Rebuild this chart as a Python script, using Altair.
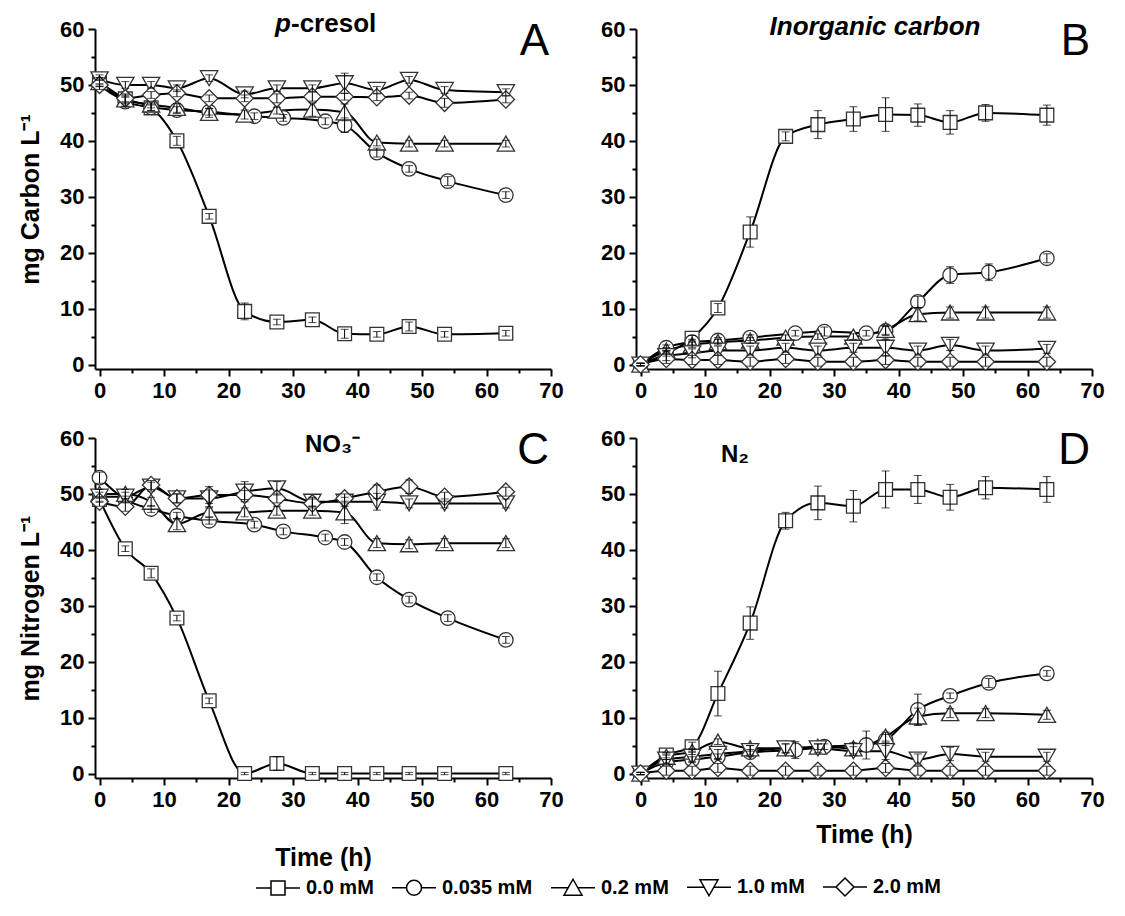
import altair as alt
import pandas as pd

FONT = "Liberation Sans"

series = ["0.0 mM", "0.035 mM", "0.2 mM", "1.0 mM", "2.0 mM"]
shapes = ["square", "circle", "triangle-up", "triangle-down", "diamond"]
marker_sizes = [190, 210, 300, 300, 300]

t_main = [0, 4, 8, 12, 17, 22.5, 27.5, 33, 38, 43, 48, 53.5, 63]
t_circ = [0, 4, 8, 12, 17, 24, 28.5, 35, 38, 43, 48, 54, 63]

x_ticks = list(range(0, 75, 5))
y_ticks = list(range(0, 65, 5))

# ---- Panel A: p-cresol (mg C/L) ----
A_00 = [50.5, 47.5, 45.9, 40.0, 26.5, 9.5, 7.6, 8.0, 5.5, 5.4, 6.8, 5.4, 5.6]
A_035 = [50.5, 47.0, 46.0, 45.5, 45.2, 44.4, 44.1, 43.5, 42.8, 37.9, 35.0, 32.8, 30.3]
A_02 = [50.5, 47.4, 46.5, 45.9, 45.0, 44.7, 45.4, 45.6, 45.1, 39.7, 39.5, 39.5, 39.5]
A_10 = [51.0, 50.0, 50.0, 49.4, 51.2, 48.3, 49.4, 49.4, 50.3, 49.1, 50.9, 49.1, 48.7]
A_20 = [50.0, 47.6, 48.2, 48.5, 47.6, 47.6, 47.6, 47.9, 47.9, 47.8, 48.1, 46.8, 47.4]
A_00_err = [0.5, 0.5, 0.5, 0.8, 0.5, 1.5, 0.5, 0.5, 0.8, 0.5, 0.8, 0.5, 0.5]
A_035_err = [0.8, 0.8, 0.6, 0.6, 0.6, 0.6, 0.6, 0.6, 1.3, 0.8, 0.6, 0.8, 0.6]
A_02_err = [0.8, 0.8, 0.6, 0.8, 0.8, 0.8, 0.6, 1.2, 1.5, 0.6, 0.6, 0.6, 0.6]
A_10_err = [0.8, 0.6, 0.6, 0.6, 0.6, 0.6, 0.6, 0.6, 1.8, 0.6, 0.6, 0.6, 0.6]
A_20_err = [0.8, 0.8, 0.6, 0.6, 0.6, 0.6, 0.8, 0.8, 0.6, 0.6, 0.6, 0.8, 0.6]

# ---- Panel B: inorganic carbon (mg C/L) ----
B_00 = [0.0, 2.0, 4.7, 10.1, 23.7, 40.8, 42.9, 43.9, 44.7, 44.6, 43.3, 45.0, 44.6]
B_035 = [0.0, 3.0, 4.0, 4.3, 4.8, 5.6, 5.9, 5.6, 6.0, 11.2, 16.0, 16.5, 19.0]
B_02 = [0.0, 2.5, 3.5, 4.0, 4.3, 4.8, 5.0, 5.0, 6.2, 9.0, 9.3, 9.3, 9.3]
B_10 = [0.0, 1.5, 2.0, 2.5, 2.5, 3.0, 2.5, 3.0, 3.0, 2.5, 3.5, 2.5, 2.8]
B_20 = [0.0, 1.0, 0.8, 0.8, 0.5, 1.0, 0.5, 0.5, 0.8, 0.5, 0.5, 0.5, 0.5]
B_00_err = [0.3, 0.5, 0.5, 0.8, 2.7, 0.8, 2.5, 2.2, 3.0, 2.0, 2.1, 1.5, 1.8]
B_035_err = [0.2, 0.5, 0.5, 0.5, 0.5, 0.5, 0.8, 0.5, 0.8, 1.0, 1.5, 1.5, 0.8]
B_02_err = [0.2, 0.5, 0.5, 0.5, 0.5, 0.5, 0.5, 0.5, 0.8, 1.2, 1.0, 1.0, 1.0]
B_10_err = [0.2, 0.8, 0.8, 0.8, 0.8, 0.8, 0.8, 0.8, 1.5, 0.8, 1.0, 0.8, 0.8]
B_20_err = [0.2, 0.8, 0.8, 0.8, 0.8, 0.8, 0.8, 0.8, 0.8, 0.8, 0.8, 0.8, 0.8]

# ---- Panel C: nitrate (mg N/L) ----
C_00 = [49.0, 40.2, 35.8, 27.8, 13.0, 0.0, 1.8, 0.0, 0.0, 0.0, 0.0, 0.0, 0.0]
C_035 = [52.9, 49.0, 47.3, 46.1, 45.2, 44.5, 43.3, 42.2, 41.4, 35.1, 31.1, 27.8, 23.9]
C_02 = [50.0, 50.0, 48.6, 44.6, 46.7, 46.7, 47.0, 47.0, 46.7, 41.2, 41.0, 41.2, 41.2]
C_10 = [49.5, 49.5, 51.3, 49.2, 49.2, 50.4, 51.0, 48.6, 48.6, 48.6, 48.3, 48.3, 48.3]
C_20 = [48.6, 47.7, 51.6, 49.2, 49.8, 49.8, 49.2, 48.3, 49.2, 50.4, 51.3, 49.5, 50.4]
C_00_err = [0.5, 0.5, 0.8, 0.5, 0.5, 0.2, 1.2, 0.2, 0.2, 0.2, 0.2, 0.2, 0.2]
C_035_err = [1.0, 0.6, 0.6, 0.6, 0.6, 0.6, 0.6, 0.6, 0.6, 0.6, 0.6, 0.6, 0.6]
C_02_err = [0.8, 0.8, 0.8, 1.0, 0.8, 0.8, 0.8, 0.8, 2.0, 0.8, 0.8, 0.8, 0.8]
C_10_err = [0.8, 0.8, 0.8, 0.8, 1.5, 1.8, 1.2, 0.8, 0.8, 1.5, 0.8, 0.8, 0.8]
C_20_err = [0.8, 0.8, 0.8, 0.8, 1.5, 0.8, 0.8, 0.8, 0.8, 1.2, 1.2, 0.8, 0.8]

# ---- Panel D: N2 (mg N/L) ----
D_00 = [0.0, 3.3, 4.8, 14.3, 26.9, 45.2, 48.4, 47.8, 50.8, 50.8, 49.4, 51.1, 50.8]
D_035 = [0.0, 2.0, 2.5, 3.0, 3.8, 4.2, 4.8, 5.1, 6.0, 11.4, 13.9, 16.2, 17.9]
D_02 = [0.0, 3.0, 3.9, 5.7, 4.5, 4.5, 4.8, 4.5, 6.6, 10.2, 10.8, 10.8, 10.5]
D_10 = [0.0, 2.5, 3.0, 3.5, 4.0, 4.5, 4.5, 4.0, 4.0, 2.5, 3.5, 3.0, 3.0]
D_20 = [0.0, 0.5, 0.5, 1.0, 0.5, 0.5, 0.5, 0.5, 1.0, 0.5, 0.5, 0.5, 0.5]
D_00_err = [0.2, 0.5, 0.8, 4.0, 2.9, 1.5, 3.0, 2.8, 3.3, 2.5, 2.3, 2.0, 2.3]
D_035_err = [0.2, 0.5, 0.5, 0.5, 0.5, 1.5, 0.5, 2.5, 1.0, 2.8, 0.5, 0.8, 0.5]
D_02_err = [0.2, 0.5, 0.5, 0.5, 0.5, 0.8, 0.5, 1.0, 0.8, 1.5, 0.8, 0.8, 0.8]
D_10_err = [0.2, 0.8, 0.8, 0.8, 1.0, 0.8, 0.8, 0.8, 1.5, 1.0, 1.2, 0.8, 0.8]
D_20_err = [0.2, 0.8, 0.8, 0.8, 0.8, 0.8, 0.8, 0.8, 0.8, 0.8, 0.8, 0.8, 0.8]

# legend glyphs: line - marker - line
legend_paths = [
    "M-2.2,0H-0.7M0.7,0H2.2M-0.7,-0.7H0.7V0.7H-0.7Z",
    "M-2.2,0H-0.75M0.75,0H2.2M-0.75,0A0.75,0.75 0 1,0 0.75,0A0.75,0.75 0 1,0 -0.75,0Z",
    "M-2.2,0H-0.45M0.45,0H2.2M0,-0.85L0.9,0.75H-0.9Z",
    "M-2.2,0H-0.45M0.45,0H2.2M0,0.85L0.9,-0.75H-0.9Z",
    "M-2.2,0H-0.9M0.9,0H2.2M-0.9,0L0,-0.9L0.9,0L0,0.9Z",
]

W, H = 456, 340


def panel_frame(vals, errs):
    rows = []
    for s, times, v, e in zip(series, [t_main, t_circ, t_main, t_main, t_main], vals, errs):
        for t, vv, ee in zip(times, v, e):
            rows.append({"series": s, "t": t, "v": vv, "lo": max(vv - ee, -0.6), "hi": vv + ee})
    return pd.DataFrame(rows)


tick_len = {"condition": {"test": "datum.value % 10 !== 0", "value": 4}, "value": 7}


def text_layer(label, x, y, size, align="center", baseline="alphabetic", style="normal", weight="bold"):
    return alt.Chart(pd.DataFrame({"label": [label]})).mark_text(
        font=FONT, fontSize=size, fontWeight=weight, fontStyle=style,
        align=align, baseline=baseline, color="black"
    ).encode(text="label:N", x=alt.value(x), y=alt.value(y))


def make_panel(df, letter, ytitle, xtitle, xpad, titles, legend=False):
    xaxis = alt.Axis(values=x_ticks, labelExpr="datum.value % 10 === 0 ? datum.label : ''",
                     tickSize=tick_len, title=xtitle, titlePadding=xpad)
    yaxis = alt.Axis(values=y_ticks, labelExpr="datum.value % 10 === 0 ? datum.label : ''",
                     tickSize=tick_len, title=ytitle, titlePadding=16)
    xs = alt.Scale(domain=[-0.7, 70], nice=False, zero=False)
    ys = alt.Scale(domain=[-0.8, 60], nice=False, zero=False)
    X = alt.X("t:Q", scale=xs, axis=xaxis)
    base = alt.Chart(df)
    layers = [
        base.mark_line(interpolate="monotone", color="black", strokeWidth=2).encode(
            x=X, y=alt.Y("v:Q", scale=ys, axis=yaxis), detail="series:N")
    ]
    for s, sh, sz in zip(series, shapes, marker_sizes):
        layers.append(
            base.transform_filter(alt.datum.series == s).mark_point(
                shape=sh, size=sz, filled=True, fill="white", stroke="#333333",
                strokeWidth=1.3, opacity=1
            ).encode(x=X, y=alt.Y("v:Q", scale=ys, axis=yaxis))
        )
    layers.append(base.mark_rule(color="black", strokeWidth=1).encode(
        x=X, y=alt.Y("lo:Q", scale=ys, axis=yaxis), y2="hi:Q"))
    layers.append(base.mark_tick(orient="horizontal", size=8, thickness=1, color="black").encode(
        x=X, y=alt.Y("lo:Q", scale=ys, axis=yaxis)))
    layers.append(base.mark_tick(orient="horizontal", size=8, thickness=1, color="black").encode(
        x=X, y=alt.Y("hi:Q", scale=ys, axis=yaxis)))
    layers.extend(titles)
    layers.append(text_layer(letter, W - 2, -9, 44, align="right", baseline="top", weight="normal"))
    if legend:
        leg = alt.Chart(pd.DataFrame({"series": series})).mark_point(
            color="black", filled=False, strokeWidth=1.5
        ).encode(
            x=alt.value(0), y=alt.value(0), opacity=alt.value(0),
            shape=alt.Shape("series:N", scale=alt.Scale(domain=series, range=legend_paths),
                            legend=alt.Legend(orient="none", legendX=172, legendY=847,
                                              direction="horizontal", columns=5, title=None,
                                              symbolSize=400, symbolStrokeWidth=1.5,
                                              symbolStrokeColor="black", symbolOpacity=1,
                                              labelFont=FONT, labelFontSize=20,
                                              labelFontWeight="bold", labelColor="black",
                                              labelOffset=17, columnPadding=15, labelLimit=0))
        )
        layers.append(leg)
    return alt.layer(*layers).properties(width=W, height=H)


dfA = panel_frame([A_00, A_035, A_02, A_10, A_20], [A_00_err, A_035_err, A_02_err, A_10_err, A_20_err])
dfB = panel_frame([B_00, B_035, B_02, B_10, B_20], [B_00_err, B_035_err, B_02_err, B_10_err, B_20_err])
dfC = panel_frame([C_00, C_035, C_02, C_10, C_20], [C_00_err, C_035_err, C_02_err, C_10_err, C_20_err])
dfD = panel_frame([D_00, D_035, D_02, D_10, D_20], [D_00_err, D_035_err, D_02_err, D_10_err, D_20_err])

pA = make_panel(dfA, "A", "mg Carbon L⁻¹", None, 0, [
    text_layer("p", 196, 3, 26, align="right", style="italic"),
    text_layer("-cresol", 196, 3, 26, align="left"),
], legend=True)
pB = make_panel(dfB, "B", None, None, 0, [
    text_layer("Inorganic carbon", 239, 6, 26, style="italic"),
])
pC = make_panel(dfC, "C", "mg Nitrogen L⁻¹", "Time (h)", 35, [
    text_layer("NO₃⁻", 210, 14, 24, align="left"),
])
pD = make_panel(dfD, "D", None, "Time (h)", 12, [
    text_layer("N₂", 85, 24, 24, align="left"),
])

chart = alt.concat(
    pA, pB, pC, pD, columns=2, spacing={"row": 69, "column": 85}, bounds="flush"
).properties(
    padding={"left": 10, "top": 3, "right": 0, "bottom": 0}
).configure_view(stroke=None).configure_axis(
    grid=False, domainColor="black", domainWidth=2, tickColor="black", tickWidth=2,
    labelFont=FONT, labelFontSize=22, labelFontWeight="bold", labelColor="black",
    labelPadding=4, labelFlush=False, labelOverlap=False,
    titleFont=FONT, titleFontSize=25, titleFontWeight="bold", titleColor="black"
)

chart.save("out.html", embed_options={"renderer": "svg", "actions": False})
